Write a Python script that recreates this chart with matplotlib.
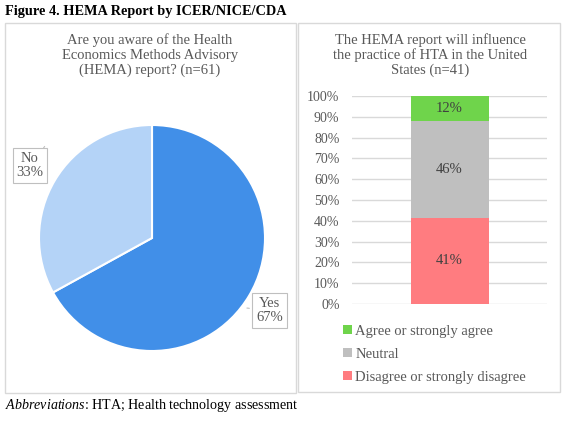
import matplotlib
matplotlib.use("Agg")
import matplotlib.pyplot as plt
from matplotlib.patches import Rectangle

plt.rcParams['font.family'] = ['Liberation Serif', 'DejaVu Serif']
plt.rcParams['mathtext.fontset'] = 'custom'
plt.rcParams['mathtext.rm'] = 'Liberation Serif'
plt.rcParams['mathtext.it'] = 'Liberation Serif:italic'

# Pie data
pie_labels = ["Yes", "No"]
pie_values = [67, 33]
pie_colors = ["#418FE8", "#B4D3F7"]

# Stacked bar data (share of n=41)
bar_labels = ["Disagree or strongly disagree", "Neutral", "Agree or strongly agree"]
bar_values = [41.46, 46.34, 12.20]
bar_texts = ["41%", "46%", "12%"]
bar_colors = ["#FF7C80", "#BFBFBF", "#6FD44B"]
yticks = list(range(0, 101, 10))

W, H = 584, 426
fig = plt.figure(figsize=(W / 100, H / 100), dpi=100)
txt = "#595959"

def fx(x):
    return x / W

def fy(y):
    return 1 - y / H

# panel borders
for x0, y0, x1, y1 in [(5, 23, 296, 393), (298, 23, 560, 392)]:
    fig.patches.append(Rectangle((fx(x0), fy(y1)), fx(x1 - x0), (y1 - y0) / H,
                                 transform=fig.transFigure, fill=False,
                                 edgecolor="#D9D9D9", linewidth=1))

fig.text(fx(5), fy(11), "Figure 4. HEMA Report by ICER/NICE/CDA", fontsize=10.3,
         fontweight="bold", ha="left", va="center")
fig.text(fx(5), fy(405), "$\\it{Abbreviations}$: HTA; Health technology assessment",
         fontsize=10.1, ha="left", va="center")

# Left: pie
fig.text(fx(150), fy(55), "Are you aware of the Health\nEconomics Methods Advisory\n(HEMA) report? (n=61)",
         fontsize=10.5, color=txt, ha="center", va="center", linespacing=1.15)
axp = fig.add_axes([fx(39), fy(351), fx(226), 226 / H])
axp.pie(pie_values, colors=pie_colors, startangle=90, counterclock=False,
        wedgeprops=dict(edgecolor="white", linewidth=1.5))
axp.set_xlim(-1, 1)
axp.set_ylim(-1, 1)
axp.set_aspect("equal")
box = dict(boxstyle="square,pad=0.25", facecolor="white", edgecolor="#BFBFBF", linewidth=0.8)
axp.annotate("Yes\n67%", xy=(0.84, -0.62), xytext=(1.04, -0.64), fontsize=10.5, color=txt,
             ha="center", va="center", bbox=box, linespacing=1.15,
             arrowprops=dict(arrowstyle="-", color="#BFBFBF", lw=0.8))
axp.annotate("No\n33%", xy=(-0.95, 0.81), xytext=(-1.08, 0.64), fontsize=10.5, color=txt,
             ha="center", va="center", bbox=box, linespacing=1.15,
             arrowprops=dict(arrowstyle="-", color="#BFBFBF", lw=0.8))

# Right: stacked bar
fig.text(fx(430), fy(55), "The HEMA report will influence\nthe practice of HTA in the United\nStates (n=41)",
         fontsize=10.5, color=txt, ha="center", va="center", linespacing=1.15)
axb = fig.add_axes([fx(352), fy(304), fx(547 - 352), (304 - 96) / H])
bottom = 0
for lab, v, t, c in zip(bar_labels, bar_values, bar_texts, bar_colors):
    axb.bar(0, v, width=0.4, bottom=bottom, color=c, label=lab, zorder=2)
    axb.text(0, bottom + v / 2, t, ha="center", va="center", fontsize=10.5, color="#404040", zorder=3)
    bottom += v
axb.set_xlim(-0.5, 0.5)
axb.set_ylim(0, 100)
axb.set_yticks(yticks)
axb.set_yticklabels([f"{t}%" for t in yticks], fontsize=10, color=txt)
axb.set_xticks([])
axb.grid(axis="y", color="#D9D9D9", linewidth=1, zorder=0)
axb.tick_params(axis="y", length=0, pad=9)
for s in axb.spines.values():
    s.set_visible(False)
h, l = axb.get_legend_handles_labels()
fig.legend(h[::-1], l[::-1], loc="upper left", bbox_to_anchor=(fx(337), fy(319)),
           frameon=False, fontsize=10.5, labelcolor=txt, handlelength=0.6, handleheight=0.6,
           handletextpad=0.25, labelspacing=0.68, borderaxespad=0)

fig.savefig("out.png", dpi=100)
